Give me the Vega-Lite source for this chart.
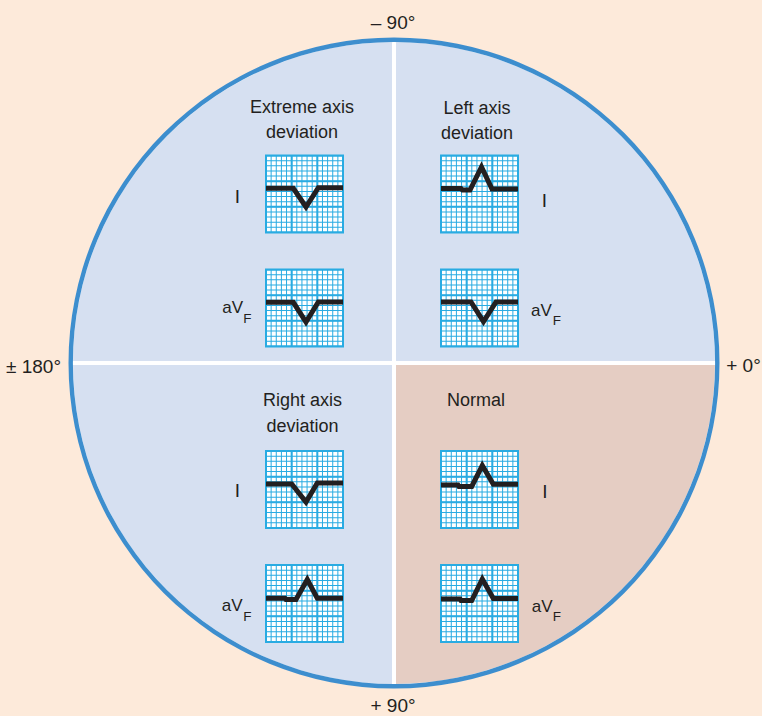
{
  "$schema": "https://vega.github.io/schema/vega-lite/v6.json",
  "width": 736,
  "height": 706,
  "autosize": {"type": "none"},
  "padding": {"left": 26, "top": 10, "right": 0, "bottom": 0},
  "background": "#fdeada",
  "config": {"view": {"stroke": null}},
  "resolve": {"scale": {"theta": "independent", "color": "independent"}},
  "datasets": {
    "panels": [
      {"panel": "EI", "x": -128, "x2": -51, "y": -207.5, "y2": -130.5, "xm": -89.5, "ym": -169},
      {"panel": "EaVF", "x": -128, "x2": -51, "y": -93.5, "y2": -16.5, "xm": -89.5, "ym": -55},
      {"panel": "LI", "x": 47, "x2": 124, "y": -207.5, "y2": -130.5, "xm": 85.5, "ym": -169},
      {"panel": "LaVF", "x": 47, "x2": 124, "y": -93.5, "y2": -16.5, "xm": 85.5, "ym": -55},
      {"panel": "RI", "x": -128, "x2": -51, "y": 88, "y2": 165, "xm": -89.5, "ym": 126.5},
      {"panel": "RaVF", "x": -128, "x2": -51, "y": 202, "y2": 279, "xm": -89.5, "ym": 240.5},
      {"panel": "NI", "x": 47, "x2": 124, "y": 88, "y2": 165, "xm": 85.5, "ym": 126.5},
      {"panel": "NaVF", "x": 47, "x2": 124, "y": 202, "y2": 279, "xm": 85.5, "ym": 240.5}
    ],
    "traces": [
      {"panel": "EI", "i": 1, "x": -128, "y": -174.7},
      {"panel": "EI", "i": 2, "x": -100.7, "y": -174.7},
      {"panel": "EI", "i": 3, "x": -88, "y": -156},
      {"panel": "EI", "i": 4, "x": -75.7, "y": -175.3},
      {"panel": "EI", "i": 5, "x": -51, "y": -175.3},
      {"panel": "EaVF", "i": 1, "x": -128, "y": -60.7},
      {"panel": "EaVF", "i": 2, "x": -100.7, "y": -60.7},
      {"panel": "EaVF", "i": 3, "x": -88, "y": -41},
      {"panel": "EaVF", "i": 4, "x": -75.7, "y": -61},
      {"panel": "EaVF", "i": 5, "x": -51, "y": -61},
      {"panel": "LI", "i": 1, "x": 47, "y": -174.5},
      {"panel": "LI", "i": 2, "x": 67, "y": -174.5},
      {"panel": "LI", "i": 3, "x": 68.5, "y": -173},
      {"panel": "LI", "i": 4, "x": 76, "y": -173},
      {"panel": "LI", "i": 5, "x": 87.5, "y": -196},
      {"panel": "LI", "i": 6, "x": 98, "y": -174},
      {"panel": "LI", "i": 7, "x": 124, "y": -174},
      {"panel": "LaVF", "i": 1, "x": 47, "y": -61},
      {"panel": "LaVF", "i": 2, "x": 77, "y": -61},
      {"panel": "LaVF", "i": 3, "x": 89.5, "y": -41.5},
      {"panel": "LaVF", "i": 4, "x": 102, "y": -61},
      {"panel": "LaVF", "i": 5, "x": 124, "y": -61},
      {"panel": "RI", "i": 1, "x": -128, "y": 121},
      {"panel": "RI", "i": 2, "x": -102.3, "y": 121},
      {"panel": "RI", "i": 3, "x": -88, "y": 139},
      {"panel": "RI", "i": 4, "x": -76.7, "y": 120},
      {"panel": "RI", "i": 5, "x": -51, "y": 120},
      {"panel": "RaVF", "i": 1, "x": -128, "y": 235.3},
      {"panel": "RaVF", "i": 2, "x": -109, "y": 235.3},
      {"panel": "RaVF", "i": 3, "x": -108, "y": 236.5},
      {"panel": "RaVF", "i": 4, "x": -98, "y": 236.5},
      {"panel": "RaVF", "i": 5, "x": -86.7, "y": 216.5},
      {"panel": "RaVF", "i": 6, "x": -76.7, "y": 235.3},
      {"panel": "RaVF", "i": 7, "x": -51, "y": 235.3},
      {"panel": "NI", "i": 1, "x": 47, "y": 122},
      {"panel": "NI", "i": 2, "x": 64, "y": 122},
      {"panel": "NI", "i": 3, "x": 65, "y": 123.5},
      {"panel": "NI", "i": 4, "x": 77.7, "y": 123.5},
      {"panel": "NI", "i": 5, "x": 88.3, "y": 102.5},
      {"panel": "NI", "i": 6, "x": 99.3, "y": 121.3},
      {"panel": "NI", "i": 7, "x": 124, "y": 121.3},
      {"panel": "NaVF", "i": 1, "x": 47, "y": 236},
      {"panel": "NaVF", "i": 2, "x": 66, "y": 236},
      {"panel": "NaVF", "i": 3, "x": 67, "y": 237.5},
      {"panel": "NaVF", "i": 4, "x": 77.7, "y": 237.5},
      {"panel": "NaVF", "i": 5, "x": 88.3, "y": 216},
      {"panel": "NaVF", "i": 6, "x": 99.3, "y": 235.5},
      {"panel": "NaVF", "i": 7, "x": 124, "y": 235.5}
    ]
  },
  "layer": [
    {
      "data": {"values": [
        {"q": "Left axis deviation", "k": 1, "v": 1},
        {"q": "Normal", "k": 2, "v": 1},
        {"q": "Right axis deviation", "k": 3, "v": 1},
        {"q": "Extreme axis deviation", "k": 4, "v": 1}
      ]},
      "mark": {"type": "arc", "outerRadius": 323, "stroke": "#ffffff", "strokeWidth": 4},
      "encoding": {
        "theta": {"field": "v", "type": "quantitative", "stack": true},
        "order": {"field": "k", "type": "quantitative"},
        "color": {"field": "q", "type": "nominal", "legend": null,
          "scale": {"domain": ["Left axis deviation", "Normal", "Right axis deviation", "Extreme axis deviation"],
                    "range": ["#d6e0f1", "#e5cdc3", "#d6e0f1", "#d6e0f1"]}}
      }
    },
    {
      "data": {"values": [{"v": 1}]},
      "mark": {"type": "arc", "innerRadius": 321, "outerRadius": 325.5, "color": "#3d8ece"},
      "encoding": {"theta": {"field": "v", "type": "quantitative"}}
    },
    {
      "data": {"name": "panels"},
      "mark": {"type": "rect", "color": "#ffffff"},
      "encoding": {
        "x": {"field": "x", "type": "quantitative", "axis": null, "scale": {"domain": [-368, 368], "nice": false, "zero": false}},
        "x2": {"field": "x2"},
        "y": {"field": "y", "type": "quantitative", "axis": null, "scale": {"domain": [-353, 353], "reverse": true, "nice": false, "zero": false}},
        "y2": {"field": "y2"}
      }
    },
    {
      "data": {"name": "panels"},
      "mark": {"type": "rule", "color": "#29abe2", "strokeWidth": 77, "strokeCap": "butt", "strokeDash": [1, 4.1333], "strokeDashOffset": 0.5},
      "encoding": {
        "x": {"field": "x", "type": "quantitative", "axis": null, "scale": {"domain": [-368, 368], "nice": false, "zero": false}},
        "x2": {"field": "x2"},
        "y": {"field": "ym", "type": "quantitative", "axis": null, "scale": {"domain": [-353, 353], "reverse": true, "nice": false, "zero": false}}
      }
    },
    {
      "data": {"name": "panels"},
      "mark": {"type": "rule", "color": "#29abe2", "strokeWidth": 77, "strokeCap": "butt", "strokeDash": [1, 4.1333], "strokeDashOffset": 0.5},
      "encoding": {
        "x": {"field": "xm", "type": "quantitative", "axis": null, "scale": {"domain": [-368, 368], "nice": false, "zero": false}},
        "y": {"field": "y", "type": "quantitative", "axis": null, "scale": {"domain": [-353, 353], "reverse": true, "nice": false, "zero": false}},
        "y2": {"field": "y2"}
      }
    },
    {
      "data": {"name": "panels"},
      "mark": {"type": "rule", "color": "#29abe2", "strokeWidth": 77, "strokeCap": "butt", "strokeDash": [2, 23.667], "strokeDashOffset": 1},
      "encoding": {
        "x": {"field": "x", "type": "quantitative", "axis": null, "scale": {"domain": [-368, 368], "nice": false, "zero": false}},
        "x2": {"field": "x2"},
        "y": {"field": "ym", "type": "quantitative", "axis": null, "scale": {"domain": [-353, 353], "reverse": true, "nice": false, "zero": false}}
      }
    },
    {
      "data": {"name": "panels"},
      "mark": {"type": "rule", "color": "#29abe2", "strokeWidth": 77, "strokeCap": "butt", "strokeDash": [2, 23.667], "strokeDashOffset": 1},
      "encoding": {
        "x": {"field": "xm", "type": "quantitative", "axis": null, "scale": {"domain": [-368, 368], "nice": false, "zero": false}},
        "y": {"field": "y", "type": "quantitative", "axis": null, "scale": {"domain": [-353, 353], "reverse": true, "nice": false, "zero": false}},
        "y2": {"field": "y2"}
      }
    },
    {
      "data": {"name": "panels"},
      "mark": {"type": "rect", "fillOpacity": 0, "stroke": "#29abe2", "strokeWidth": 2},
      "encoding": {
        "x": {"field": "x", "type": "quantitative", "axis": null, "scale": {"domain": [-368, 368], "nice": false, "zero": false}},
        "x2": {"field": "x2"},
        "y": {"field": "y", "type": "quantitative", "axis": null, "scale": {"domain": [-353, 353], "reverse": true, "nice": false, "zero": false}},
        "y2": {"field": "y2"}
      }
    },
    {
      "data": {"name": "traces"},
      "mark": {"type": "line", "color": "#231f20", "strokeWidth": 5, "strokeJoin": "miter", "strokeCap": "butt"},
      "encoding": {
        "x": {"field": "x", "type": "quantitative", "axis": null, "scale": {"domain": [-368, 368], "nice": false, "zero": false}},
        "y": {"field": "y", "type": "quantitative", "axis": null, "scale": {"domain": [-353, 353], "reverse": true, "nice": false, "zero": false}},
        "detail": {"field": "panel"},
        "order": {"field": "i", "type": "quantitative"}
      }
    },
    {
      "data": {"values": [
        {"t": "Extreme axis", "x": -92, "y": -250.5},
        {"t": "deviation", "x": -92, "y": -225.5},
        {"t": "Left axis", "x": 83, "y": -249},
        {"t": "deviation", "x": 83, "y": -224},
        {"t": "Right axis", "x": -91.5, "y": 43},
        {"t": "deviation", "x": -91.5, "y": 68.5},
        {"t": "Normal", "x": 82, "y": 43}
      ]},
      "mark": {"type": "text", "font": "Liberation Sans", "fontSize": 18, "color": "#231f20", "align": "center", "baseline": "alphabetic"},
      "encoding": {
        "x": {"field": "x", "type": "quantitative", "axis": null, "scale": {"domain": [-368, 368], "nice": false, "zero": false}},
        "y": {"field": "y", "type": "quantitative", "axis": null, "scale": {"domain": [-353, 353], "reverse": true, "nice": false, "zero": false}},
        "text": {"field": "t"}
      }
    },
    {
      "data": {"values": [
        {"t": "I", "x": -156.7, "y": -160},
        {"t": "I", "x": 150.3, "y": -156.5},
        {"t": "I", "x": -156.7, "y": 134.3},
        {"t": "I", "x": 151, "y": 135}
      ]},
      "mark": {"type": "text", "font": "Liberation Sans", "fontSize": 19, "color": "#231f20", "align": "center", "baseline": "alphabetic"},
      "encoding": {
        "x": {"field": "x", "type": "quantitative", "axis": null, "scale": {"domain": [-368, 368], "nice": false, "zero": false}},
        "y": {"field": "y", "type": "quantitative", "axis": null, "scale": {"domain": [-353, 353], "reverse": true, "nice": false, "zero": false}},
        "text": {"field": "t"}
      }
    },
    {
      "data": {"values": [
        {"t": "aV", "x": -171.7, "y": -50},
        {"t": "aV", "x": 137, "y": -47.5},
        {"t": "aV", "x": -172.3, "y": 247.5},
        {"t": "aV", "x": 137.7, "y": 248.5}
      ]},
      "mark": {"type": "text", "font": "Liberation Sans", "fontSize": 17, "color": "#231f20", "align": "left", "baseline": "alphabetic"},
      "encoding": {
        "x": {"field": "x", "type": "quantitative", "axis": null, "scale": {"domain": [-368, 368], "nice": false, "zero": false}},
        "y": {"field": "y", "type": "quantitative", "axis": null, "scale": {"domain": [-353, 353], "reverse": true, "nice": false, "zero": false}},
        "text": {"field": "t"}
      }
    },
    {
      "data": {"values": [
        {"t": "F", "x": -150.7, "y": -40.5},
        {"t": "F", "x": 158.7, "y": -38},
        {"t": "F", "x": -150.7, "y": 257.5},
        {"t": "F", "x": 158.7, "y": 258}
      ]},
      "mark": {"type": "text", "font": "Liberation Sans", "fontSize": 13.5, "color": "#231f20", "align": "left", "baseline": "alphabetic"},
      "encoding": {
        "x": {"field": "x", "type": "quantitative", "axis": null, "scale": {"domain": [-368, 368], "nice": false, "zero": false}},
        "y": {"field": "y", "type": "quantitative", "axis": null, "scale": {"domain": [-353, 353], "reverse": true, "nice": false, "zero": false}},
        "text": {"field": "t"}
      }
    },
    {
      "data": {"values": [
        {"t": "– 90°", "x": -1, "y": -334.5},
        {"t": "± 180°", "x": -360.5, "y": 10.3},
        {"t": "+ 0°", "x": 349.5, "y": 8.7},
        {"t": "+ 90°", "x": -1, "y": 348.5}
      ]},
      "mark": {"type": "text", "font": "Liberation Sans", "fontSize": 19, "color": "#231f20", "align": "center", "baseline": "alphabetic"},
      "encoding": {
        "x": {"field": "x", "type": "quantitative", "axis": null, "scale": {"domain": [-368, 368], "nice": false, "zero": false}},
        "y": {"field": "y", "type": "quantitative", "axis": null, "scale": {"domain": [-353, 353], "reverse": true, "nice": false, "zero": false}},
        "text": {"field": "t"}
      }
    }
  ]
}
